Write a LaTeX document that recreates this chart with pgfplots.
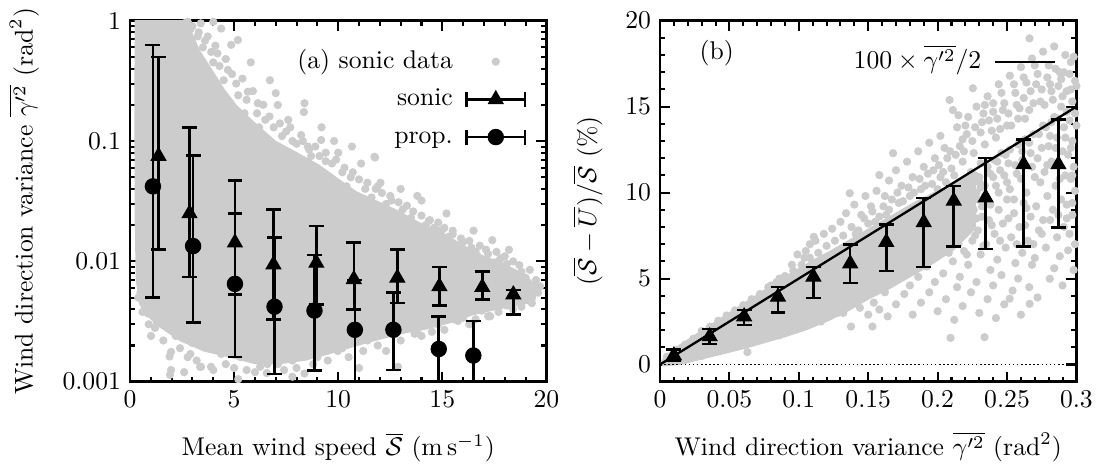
\documentclass[border=0pt]{standalone}
\usepackage{pgfplots}
\pgfplotsset{compat=1.18}
\definecolor{sgray}{RGB}{204,204,204}
\pgfplotstableread{
x y ep em
1.37 0.075 0.425 0.0624
2.86 0.025 0.104 0.0176
5.04 0.0143 0.0327 0.0090
6.89 0.0094 0.0176 0.0061
8.95 0.0097 0.0100 0.0053
10.75 0.0071 0.0072 0.0031
12.84 0.0073 0.0053 0.0028
14.86 0.0062 0.0028 0.0019
16.92 0.0061 0.0021 0.0013
18.41 0.0053 0.0005 0.0017
}\sonictab
\pgfplotstableread{
x y ep em
1.10 0.042 0.588 0.037
3.03 0.0134 0.0623 0.0103
5.04 0.0065 0.0185 0.0049
6.94 0.0042 0.0116 0.00304
8.86 0.0039 0.0074 0.00266
10.80 0.0027 0.0043 0.0022
12.65 0.0027 0.0028 0.00145
14.83 0.00187 0.00163 0.00137
16.49 0.00165 0.00155 0.00115
}\proptab
\pgfplotstableread{
x y ep em
0.010 0.52 0.35 0.32
0.0358 1.63 0.43 0.43
0.0606 2.79 0.38 0.48
0.085 3.94 0.58 0.92
0.1105 5.10 0.57 1.22
0.137 5.87 1.11 1.12
0.163 7.12 1.02 1.68
0.190 8.27 1.41 2.60
0.2116 9.52 0.87 2.65
0.2346 9.71 2.31 2.98
0.262 11.64 1.44 4.77
0.287 11.64 2.60 3.66
}\ratiotab
\pgfplotsset{
  myax/.style={scale only axis, width=162.4pt, height=140.8pt, clip mode=individual,
    tick align=inside, major tick length=3.9pt, minor tick length=1.95pt,
    tick style={black, line width=0.8pt},
    axis line style={line width=1.1pt},
    legend style={draw=none, fill=none, inner sep=0pt, outer sep=0pt,
      column sep=4.9pt, row sep=4.7pt,
      nodes={inner sep=0pt, text height=7.5pt, text depth=2.5pt}},
    legend cell align=right, legend plot pos=right,
  },
  dots/.style={only marks, mark=*, mark size=1.4pt, color=sgray,
    mark options={draw=sgray, fill=sgray}},
  blob/.style={fill=sgray, draw=sgray, line width=2.8pt, line join=round, forget plot},
  ebar/.style={only marks, black, mark options={fill=black, line width=0.4pt},
    error bars/y dir=both, error bars/y explicit,
    error bars/error bar style={line width=1pt, black},
    error bars/error mark options={rotate=90, mark size=2.9pt, line width=1pt, black}},
  legtri/.style={legend image code/.code={
    \draw[line width=1pt,black] (0pt,0pt) -- (22.7pt,0pt) (0pt,-2.9pt) -- (0pt,2.9pt) (22.7pt,-2.9pt) -- (22.7pt,2.9pt);
    \draw[black] plot[mark=triangle*, mark size=3.3pt, mark options={fill=black,line width=0.4pt}] coordinates {(11.35pt,0pt)};}},
  legcirc/.style={legend image code/.code={
    \draw[line width=1pt,black] (0pt,0pt) -- (22.7pt,0pt) (0pt,-2.9pt) -- (0pt,2.9pt) (22.7pt,-2.9pt) -- (22.7pt,2.9pt);
    \draw[black] plot[mark=*, mark size=3pt, mark options={fill=black,line width=0.4pt}] coordinates {(11.35pt,0pt)};}},
}
\begin{document}
\begin{tikzpicture}
\useasboundingbox (-50.7pt,-33.66pt) rectangle (377.9pt,148.86pt);
% ---------------- (a)
\begin{axis}[myax, at={(0pt,0pt)}, anchor=south west,
  xmin=0, xmax=20, ymode=log, ymin=0.001, ymax=1,
  xtick={0,5,10,15,20}, minor x tick num=4,
  ytick={0.001,0.01,0.1,1}, yticklabels={0.001,0.01,0.1,1},
  xlabel={Mean wind speed $\overline{\mathcal{S}}$ ($\mathrm{m\,s^{-1}}$)},
  ylabel={Wind direction variance $\overline{\gamma'^2}$ ($\mathrm{rad}^2$)},
  xlabel style={at={(axis description cs:0.5,-0.205)}, anchor=base},
  ylabel style={at={(axis description cs:-0.2548,0.5)}, anchor=center},
  legend style={at={(rel axis cs:1,1)}, anchor=north east, xshift=-7.9pt, yshift=-11pt},
]
\addplot[blob] coordinates {
(0.4,1.2) (0.4,1.2) (2.4,1.2) (2.5,1) (2.8,0.8) (3.2,0.55) (3.8,0.38) (4.4,0.26) (5.0,0.19) (5.8,0.14)
(6.9,0.095) (8.0,0.075) (9.0,0.06) (10.0,0.045) (10.8,0.036) (11.8,0.03) (12.8,0.025)
(13.8,0.02) (14.9,0.0165) (15.9,0.013) (16.9,0.0105) (17.8,0.0092) (18.5,0.008)
(19.1,0.0068) (19.4,0.0058) (19.3,0.0048) (18.6,0.0046) (17.5,0.0042) (16.4,0.0038)
(15.4,0.0033) (14.2,0.0029) (13.2,0.0027) (12.0,0.0024) (10.8,0.0021) (9.5,0.0018)
(8.4,0.0016) (7.2,0.0015) (6.0,0.0015) (4.8,0.0017) (3.6,0.0019) (2.5,0.0023)
(1.5,0.003) (1.0,0.0036) (0.6,0.0045) (0.45,0.007) (0.4,0.02) (0.38,0.2) (0.4,1.2)
} -- cycle;
\addplot[dots, legend image code/.code={\path[draw=none,fill=none] (0pt,-2.9pt) rectangle (22.7pt,2.9pt); \draw[fill=sgray] plot[only marks, mark=*, mark size=1.4pt] coordinates {(11.35pt,0pt)};}] coordinates {
(2.77,0.98) (3.25,0.74) (3.73,0.74) (4.38,0.86) (5.18,0.69) (4.86,0.63) (4.2,0.535)
(4.7,0.39) (6.72,0.32) (5.66,0.257) (6.14,0.206) (7.1,0.199) (8.38,0.206) (7.6,0.15)
(8.35,0.174) (8.22,0.112) (9.18,0.102) (9.8,0.1) (8.54,0.09) (10.66,0.09) (11.74,0.074)
(11.1,0.065) (11.77,0.073) (10.6,0.05) (11.9,0.042) (12.03,0.045) (12.56,0.032)
(12.7,0.0236) (14.0,0.032) (14.35,0.0217) (14.86,0.018) (14.99,0.0182) (15.5,0.0168)
(16.4,0.013) (15.4,0.0124) (15.8,0.0118) (16.2,0.0114) (16.7,0.011) (17.8,0.0106)
(17.77,0.0104) (18.46,0.0071) (19.1,0.006) (19.23,0.0051) (19.15,0.0052)
(3.0,0.9) (3.5,0.6) (4.0,0.45) (4.5,0.32) (5.2,0.24) (5.5,0.17) (6.2,0.13) (6.5,0.15)
(7.3,0.11) (7.8,0.1) (8.7,0.075) (9.4,0.068) (10.2,0.055) (10.4,0.042) (11.3,0.04)
(11.6,0.034) (12.3,0.03) (13.1,0.027) (13.5,0.023) (14.2,0.02) (14.6,0.019) (15.3,0.016)
(16.0,0.0145) (16.6,0.012) (17.2,0.0115) (17.5,0.0098) (18.1,0.0095) (18.8,0.0082)
(19.0,0.0073) (19.6,0.0055)
(2.6,0.95) (2.9,0.85) (3.3,0.8) (3.6,0.68) (3.9,0.55) (4.1,0.62) (4.3,0.42) (4.6,0.48)
(4.9,0.36) (5.1,0.3) (5.4,0.33) (5.6,0.22) (5.9,0.26) (6.1,0.17) (6.4,0.2) (6.7,0.16)
(6.9,0.13) (7.2,0.14) (7.5,0.12) (7.7,0.13) (8.0,0.095) (8.3,0.1) (8.6,0.085) (8.9,0.09)
(9.1,0.075) (9.4,0.08) (9.7,0.065) (9.9,0.07) (10.3,0.06) (10.7,0.055) (11.0,0.048)
(11.4,0.045) (11.8,0.04) (12.1,0.037) (12.5,0.035) (12.9,0.031) (13.3,0.029) (13.6,0.026)
(14.0,0.024) (14.4,0.022) (14.8,0.021) (15.1,0.019) (15.5,0.018) (15.9,0.0155) (16.3,0.0148)
(16.8,0.0135) (17.1,0.0125) (17.6,0.012) (18.0,0.011) (18.4,0.01) (18.7,0.0093) (19.2,0.0085)
(19.5,0.007) (19.7,0.0062) (13.0,0.04) (13.8,0.035) (15.2,0.025) (16.5,0.018) (17.4,0.015)
(18.2,0.0125) (10.0,0.08) (9.2,0.13) (7.0,0.25) (5.8,0.45) (3.4,0.95) (4.0,0.98)
(17.0,0.0045) (17.6,0.0052) (18.0,0.006) (18.3,0.0045) (18.9,0.0055) (19.3,0.0045)
(19.5,0.0065) (18.6,0.0065) (17.9,0.0075) (17.3,0.008)
(1.97,0.00177) (1.9,0.00162) (2.77,0.0016) (3.41,0.00133) (3.89,0.00133) (1.97,0.00125)
(1.01,0.0024) (0.85,0.0037) (4.38,0.0017) (7.1,0.0014) (8.38,0.00117) (9.98,0.0018)
(12.87,0.00133) (13.67,0.0025) (15.75,0.0032) (17.2,0.0035) (17.26,0.0035) (1.92,0.00114)
(3.37,0.00133) (4.0,0.00125) (6.25,0.00133) (6.57,0.00118) (0.72,0.0047) (0.5,0.0055)
(15.54,0.0033) (17.3,0.0035) (18.8,0.0042)
(1.3,0.0031) (2.2,0.0024) (3.0,0.0021) (5.3,0.0016) (6.6,0.0014) (7.8,0.0015) (9.0,0.0016)
(10.2,0.0019) (11.4,0.0022) (12.6,0.0025) (13.8,0.0027) (14.8,0.003) (16.0,0.0034)
(16.9,0.0039) (18.1,0.0043)
(1.2,0.0028) (1.6,0.0022) (2.4,0.0019) (2.9,0.0017) (3.2,0.0015) (4.6,0.0014) (5.0,0.0013)
(5.6,0.00125) (6.0,0.0012) (7.4,0.00125) (8.0,0.0013) (8.8,0.0014) (9.5,0.0015) (10.5,0.0016)
(11.2,0.0018) (11.9,0.002) (12.3,0.0018) (13.0,0.0022) (14.0,0.0024) (14.5,0.0026)
(15.1,0.0027) (16.3,0.003) (16.6,0.0033) (17.7,0.0038) (18.4,0.004) (0.6,0.0038) (0.4,0.005)
(0.9,0.003) (2.6,0.0012) (5.2,0.00105) (7.8,0.0011) (11.0,0.0013)
};
\addlegendentry{(a) sonic data}
\addplot[ebar, mark=triangle*, mark size=3.3pt, legtri] table[x=x, y=y, y error plus=ep, y error minus=em] {\sonictab};
\addlegendentry{sonic}
\addplot[ebar, mark=*, mark size=3pt, legcirc] table[x=x, y=y, y error plus=ep, y error minus=em] {\proptab};
\addlegendentry{prop.}
\end{axis}
% ---------------- (b)
\begin{axis}[myax, at={(206.7pt,0pt)}, anchor=south west,
  xmin=0, xmax=0.3, ymin=-1, ymax=20,
  xtick={0,0.05,0.1,0.15,0.2,0.25,0.3}, xticklabels={0,0.05,0.1,0.15,0.2,0.25,0.3},
  minor x tick num=4,
  ytick={0,5,10,15,20}, minor y tick num=4,
  xlabel={Wind direction variance $\overline{\gamma'^2}$ ($\mathrm{rad}^2$)},
  ylabel={$(\overline{\mathcal{S}}-\overline{U})/\overline{\mathcal{S}}$ (\%)},
  xlabel style={at={(axis description cs:0.5,-0.205)}, anchor=base},
  ylabel style={at={(axis description cs:-0.173,0.5)}, anchor=center},
  legend style={at={(rel axis cs:1,1)}, anchor=north east, xshift=-7.9pt, yshift=-11.2pt},
]
\addplot[blob] coordinates {
(0.003,0.1) (0.003,0.1) (0.01,0.7) (0.03,1.75) (0.05,2.8) (0.07,3.85) (0.09,4.9) (0.11,5.85)
(0.125,6.5) (0.14,7.2) (0.155,7.9) (0.17,8.6) (0.185,9.3) (0.2,9.9) (0.215,10.5) (0.225,10.9)
(0.225,8.0) (0.21,6.8) (0.195,6.0) (0.18,5.3) (0.165,4.6) (0.15,4.0) (0.135,3.3) (0.12,2.7)
(0.105,2.2) (0.09,1.8) (0.075,1.45) (0.06,1.1) (0.045,0.8) (0.03,0.5) (0.015,0.2) (0.003,0.1)
} -- cycle;
\addplot[dots, forget plot] coordinates {
(0.005,0.45) (0.012,0.85) (0.018,1.15) (0.024,1.5) (0.03,1.95) (0.036,2.2) (0.042,2.55)
(0.048,2.85) (0.054,3.15) (0.06,3.45) (0.066,3.8) (0.072,4.1) (0.078,4.5) (0.084,4.8)
(0.08,4.6) (0.086,5.0) (0.09,5.15) (0.095,5.8) (0.099,6.4) (0.096,5.45) (0.102,5.8)
(0.104,6.2) (0.108,7.0) (0.108,6.2) (0.114,6.5) (0.12,6.9) (0.126,7.2)
(0.0175,0.26) (0.03,0.5) (0.04,0.75) (0.046,0.95) (0.055,1.1) (0.063,0.72) (0.066,1.35)
(0.078,1.55) (0.086,1.7) (0.094,1.95) (0.1,2.1) (0.109,2.5) (0.116,2.5) (0.122,2.8) (0.128,3.0)
(0.105,6.6) (0.112,7.2) (0.1108,7.43) (0.118,7.6) (0.124,7.9) (0.13,8.3) (0.1367,9.96)
(0.134,8.8) (0.14,9.3) (0.145,8.7) (0.148,9.8) (0.152,9.2) (0.158,11.02) (0.156,10.1)
(0.162,9.8) (0.165,10.7) (0.1679,12.29) (0.17,11.3) (0.174,10.4) (0.178,11.8) (0.182,10.9)
(0.186,12.4) (0.19,11.5) (0.194,12.9) (0.198,12.0) (0.202,13.3) (0.205,12.6) (0.2086,15.39)
(0.211,14.8) (0.214,13.8) (0.218,13.1) (0.222,14.4) (0.2254,16.07) (0.228,15.0) (0.232,14.1)
(0.236,15.6) (0.24,14.7) (0.244,16.3) (0.248,15.2) (0.252,16.8) (0.256,15.8) (0.26,17.3)
(0.2662,18.97) (0.264,16.4) (0.268,17.8) (0.272,16.9) (0.276,18.2) (0.28,17.4) (0.284,18.5)
(0.288,17.0) (0.292,18.0) (0.296,17.6) (0.299,16.5) (0.296,16.0) (0.29,15.6) (0.282,15.9)
(0.274,15.3) (0.266,14.8) (0.258,14.3) (0.25,13.9) (0.242,13.2) (0.234,12.8) (0.226,12.3)
(0.218,11.8) (0.21,11.4) (0.202,10.9) (0.196,10.5) (0.188,10.2) (0.18,9.8) (0.172,9.4)
(0.165,9.0) (0.158,8.6) (0.15,8.2) (0.143,7.8)
(0.132,7.5) (0.138,8.0) (0.141,7.6) (0.147,8.5) (0.153,8.9) (0.155,8.3) (0.161,9.2) (0.163,8.7)
(0.167,9.6) (0.171,10.0) (0.175,9.5) (0.179,10.3) (0.183,10.0) (0.187,10.8) (0.191,10.4)
(0.193,11.1) (0.197,11.3) (0.201,11.6) (0.204,11.2) (0.207,12.0) (0.209,12.4) (0.213,12.2)
(0.216,12.7) (0.219,12.4) (0.221,13.4) (0.225,13.0) (0.227,13.8) (0.231,13.5) (0.233,14.6)
(0.237,14.2) (0.239,13.6) (0.243,14.3) (0.245,13.7) (0.247,14.8) (0.251,14.6) (0.253,13.9)
(0.257,15.1) (0.259,14.9) (0.262,15.5) (0.263,14.3) (0.267,15.9) (0.269,15.2) (0.271,16.3)
(0.275,16.0) (0.277,15.1) (0.279,16.7) (0.281,16.3) (0.283,15.4) (0.285,17.2) (0.287,16.2)
(0.289,16.6) (0.291,17.0) (0.293,15.9) (0.295,16.9) (0.297,15.3) (0.298,17.9) (0.3,16.2)
(0.27,17.4) (0.262,16.7) (0.255,16.3) (0.24,15.2) (0.246,15.8) (0.234,15.1) (0.22,13.9) (0.215,14.5)
(0.226,9.0) (0.228,10.0) (0.23,10.9) (0.232,8.6) (0.234,10.4) (0.236,11.5) (0.238,9.3)
(0.24,10.9) (0.241,11.9) (0.244,10.0) (0.245,11.3) (0.246,12.3) (0.25,10.6) (0.251,11.7)
(0.252,12.5) (0.255,9.6) (0.257,11.1) (0.258,12.8) (0.261,11.9) (0.263,13.1) (0.264,9.1)
(0.267,12.3) (0.269,13.4) (0.27,10.9) (0.275,12.6) (0.276,13.9) (0.279,11.6) (0.281,13.3)
(0.282,14.1) (0.285,12.6) (0.287,14.3) (0.288,10.8) (0.292,13.2) (0.293,14.7) (0.296,12.6)
(0.297,11.0) (0.3,13.9) (0.228,8.5) (0.229,9.6) (0.231,10.3) (0.227,11.0)
(0.203,7.3) (0.208,6.5) (0.215,7.0) (0.221,6.4) (0.227,7.5) (0.233,6.9) (0.239,8.1) (0.245,7.2)
(0.251,8.5) (0.257,7.0) (0.263,8.1) (0.269,7.0) (0.275,7.6) (0.281,8.4) (0.287,8.7) (0.293,8.5)
(0.297,9.4)
(0.132,3.0) (0.130,4.2) (0.133,5.2) (0.1376,2.21) (0.139,3.6) (0.137,4.8) (0.144,3.3)
(0.142,4.1) (0.145,5.5) (0.150,2.9) (0.148,4.4) (0.151,5.1) (0.153,2.21) (0.154,3.6)
(0.158,3.2) (0.160,4.8) (0.157,6.0) (0.164,2.8) (0.162,4.2) (0.165,5.6) (0.163,6.8)
(0.170,3.5) (0.168,5.0) (0.171,6.2) (0.176,4.1) (0.174,5.5) (0.177,7.0) (0.182,2.9)
(0.180,4.6) (0.183,6.1) (0.188,3.6) (0.186,5.1) (0.189,6.7) (0.194,4.2) (0.192,5.7) (0.195,7.2)
(0.200,3.1) (0.198,4.8) (0.201,6.4) (0.199,7.8) (0.202,9.0) (0.200,10.2) (0.2093,1.55)
(0.206,3.8) (0.204,5.3) (0.207,7.0) (0.205,8.4) (0.208,9.6) (0.206,10.6) (0.212,2.6)
(0.214,4.5) (0.211,6.0) (0.213,7.5) (0.210,8.9) (0.214,10.1) (0.212,11.0) (0.218,3.4)
(0.216,5.1) (0.219,6.6) (0.217,8.0) (0.220,9.4) (0.218,10.7) (0.224,4.2) (0.222,5.8)
(0.225,7.2) (0.223,8.7) (0.226,10.0) (0.224,11.2) (0.2338,1.59) (0.230,3.0) (0.228,4.8)
(0.231,6.4) (0.229,7.8) (0.232,9.2) (0.230,10.6) (0.231,11.7) (0.236,3.8) (0.238,5.5)
(0.235,7.0) (0.237,8.4) (0.234,9.8) (0.238,11.1) (0.242,2.7) (0.240,4.6) (0.243,6.1)
(0.241,7.6) (0.244,9.0) (0.242,10.4) (0.243,11.8) (0.248,3.5) (0.246,5.2) (0.249,6.8)
(0.247,8.2) (0.250,9.6) (0.248,11.0) (0.249,12.2) (0.2519,3.83) (0.254,4.3) (0.256,5.9)
(0.253,7.4) (0.255,8.8) (0.252,10.2) (0.256,11.6) (0.260,2.9) (0.258,5.0) (0.261,6.5)
(0.259,8.0) (0.262,9.4) (0.260,10.8) (0.261,12.4) (0.2663,3.53) (0.266,4.5) (0.268,5.8)
(0.265,7.2) (0.267,8.6) (0.264,10.0) (0.268,11.5) (0.266,12.9) (0.272,3.9) (0.270,6.2)
(0.273,7.8) (0.271,9.2) (0.274,10.6) (0.272,12.0) (0.273,13.4) (0.2808,4.99) (0.278,6.8)
(0.276,8.4) (0.279,9.8) (0.277,11.2) (0.280,12.7) (0.278,13.8) (0.284,5.6) (0.286,7.4)
(0.283,9.0) (0.285,10.4) (0.282,11.8) (0.286,13.2) (0.284,14.4) (0.290,4.6) (0.288,6.3)
(0.291,8.0) (0.289,9.6) (0.292,11.0) (0.290,12.4) (0.291,13.8) (0.289,15.0) (0.294,6.64)
(0.295,7.6) (0.293,9.3) (0.296,10.8) (0.294,12.2) (0.295,14.2) (0.298,5.5) (0.299,7.0)
(0.297,8.7) (0.299,10.1) (0.298,11.5) (0.297,13.0) (0.299,14.6)
};
\addplot[black, densely dotted, line width=0.6pt, forget plot] coordinates {(0,0) (0.3,0)};
\addplot[black, line width=0.9pt, legend image code/.code={\draw (0pt,0pt) -- (23.4pt,0pt);}] coordinates {(0,0) (0.3,15)};
\addlegendentry{$100\times\overline{\gamma'^2}/2$}
\addplot[ebar, mark=triangle*, mark size=3.3pt, forget plot] table[x=x, y=y, y error plus=ep, y error minus=em] {\ratiotab};
\node at (rel axis cs:0.136,0.9097) {(b)};
\end{axis}
\end{tikzpicture}
\end{document}
